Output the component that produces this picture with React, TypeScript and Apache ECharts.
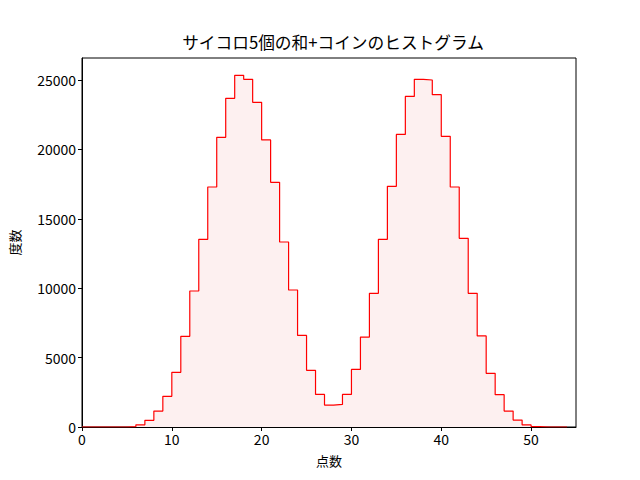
import { useEffect, useRef } from 'react';
import * as echarts from 'echarts';

// 5個のサイコロの和 + コイン(0/20) のヒストグラム、幅1のビン
const binStarts = [
  0, 1, 2, 3, 4, 5, 6, 7, 8, 9, 10, 11, 12, 13, 14, 15, 16, 17, 18, 19, 20, 21, 22, 23, 24, 25, 26,
  27, 28, 29, 30, 31, 32, 33, 34, 35, 36, 37, 38, 39, 40, 41, 42, 43, 44, 45, 46, 47, 48, 49, 50,
  51, 52, 53,
];
const binEnd = 54;

const counts = [
  0, 0, 0, 0, 0, 30, 160, 480, 1150, 2210, 3940, 6530, 9800, 13520, 17290, 20870, 23680, 25340,
  25050, 23390, 20680, 17630, 13330, 9870, 6600, 4080, 2350, 1580, 1630, 2350, 4150, 6480, 9630,
  13520, 17340, 21080, 23820, 25050, 25000, 23940, 20940, 17290, 13590, 9630, 6560, 3870, 2330,
  1150, 500, 150, 30, 0, 0, 0,
];

const xTicks = [0, 10, 20, 30, 40, 50];
const yTicks = [0, 5000, 10000, 15000, 20000, 25000];

const FONT = '"Noto Sans CJK JP", "DejaVu Sans", sans-serif';

export default function App() {
  const chartRef = useRef<HTMLDivElement>(null);

  useEffect(() => {
    if (!chartRef.current) return;
    const chart = echarts.init(chartRef.current, undefined, { renderer: 'svg' });

    const stepData = binStarts.map((x, i) => [x, counts[i]]);
    stepData.push([binEnd, counts[counts.length - 1]]);

    const option: echarts.EChartsOption = {
      animation: false,
      backgroundColor: '#ffffff',
      textStyle: { fontFamily: FONT },
      title: {
        text: 'サイコロ5個の和+コインのヒストグラム',
        left: 328,
        top: 29,
        textAlign: 'center',
        textStyle: { fontSize: 16.7, fontWeight: 'normal', color: '#000', fontFamily: FONT },
      },
      grid: {
        left: 80,
        right: 64,
        top: 58,
        bottom: 53,
        show: true,
        borderColor: '#000',
        borderWidth: 1,
        backgroundColor: 'transparent',
      },
      xAxis: {
        type: 'value',
        min: 0,
        max: 55,
        interval: 10,
        name: '点数',
        nameLocation: 'middle',
        nameGap: 27,
        nameTextStyle: { fontSize: 13, color: '#000', fontFamily: FONT },
        axisLine: { show: true, lineStyle: { color: '#000', width: 1 } },
        axisTick: { show: true, length: 4, lineStyle: { color: '#000' }, customValues: xTicks },
        axisLabel: { color: '#000', fontSize: 14, margin: 5, customValues: xTicks, fontFamily: FONT },
        splitLine: { show: false },
      },
      yAxis: {
        type: 'value',
        min: 0,
        max: 26585,
        interval: 5000,
        name: '度数',
        nameLocation: 'middle',
        nameGap: 61,
        nameRotate: 90,
        nameTextStyle: { fontSize: 13, color: '#000', fontFamily: FONT },
        axisLine: { show: true, lineStyle: { color: '#000', width: 1 } },
        axisTick: { show: true, length: 4, lineStyle: { color: '#000' }, customValues: yTicks },
        axisLabel: {
          color: '#000',
          fontSize: 14,
          margin: 6,
          customValues: yTicks,
          fontFamily: FONT,
          formatter: (v: number) => String(v),
        },
        splitLine: { show: false },
      },
      series: [
        {
          type: 'line',
          data: stepData,
          step: 'end',
          symbol: 'none',
          lineStyle: { color: '#ff0000', width: 1.2 },
          areaStyle: { color: '#fdf0f0', opacity: 1, origin: 'start' },
        },
      ],
    };

    chart.setOption(option);
    return () => chart.dispose();
  }, []);

  return <div ref={chartRef} style={{ width: 640, height: 480, margin: -8 }} />;
}
